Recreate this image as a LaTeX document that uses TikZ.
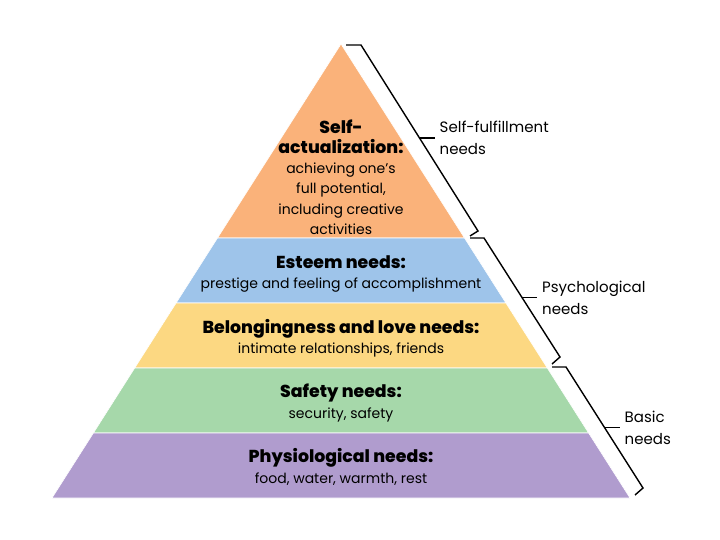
\documentclass[tikz,border=0pt]{standalone}
\usepackage{fontspec}
\setmainfont{Poppins}[BoldFont={Poppins ExtraBold}]
\usetikzlibrary{positioning,calc}
\definecolor{selfcol}{RGB}{250,178,122}
\definecolor{esteemcol}{RGB}{158,196,234}
\definecolor{lovecol}{RGB}{252,216,130}
\definecolor{safecol}{RGB}{166,216,170}
\definecolor{physcol}{RGB}{176,156,206}
\newcommand{\lvltitle}[1]{{\fontsize{17.3}{20}\selectfont\bfseries #1}}
\begin{document}
\begin{tikzpicture}[
          x=1pt, y=-1pt,
          font=\fontsize{14}{20.2}\selectfont,
          band/.style={draw=white, line width=0.6pt},
          lvl/.style={align=center, inner sep=0pt},
          brk/.style={draw=black, line width=1.4pt, line join=miter},
          lab/.style={align=left, inner xsep=5pt, inner ysep=0pt,
                      font=\fontsize{15}{22}\selectfont}
        ]
        \useasboundingbox (0,0) rectangle (720,540);
        \coordinate (apex) at (341,44);
        \path[band, fill=selfcol]   (apex) -- (464.5,238) -- (217.5,238) -- cycle;
        \path[band, fill=esteemcol] (217.5,238) -- (464.5,238) -- (505.9,303) -- (176.1,303) -- cycle;
        \path[band, fill=lovecol]   (176.1,303) -- (505.9,303) -- (547.3,368) -- (134.7,368) -- cycle;
        \path[band, fill=safecol]   (134.7,368) -- (547.3,368) -- (588.6,433) -- (93.4,433) -- cycle;
        \path[band, fill=physcol]   (93.4,433) -- (588.6,433) -- (630,498) -- (52,498) -- cycle;
        \node[lvl] (selfact) at (341,177) {\lvltitle{Self-}\\\lvltitle{actualization:}\\achieving one’s\\full potential,\\including creative\\activities};
        \node[lvl] (esteem) at (341,274) {\lvltitle{Esteem needs:}\\prestige and feeling of accomplishment};
        \node[lvl] (love) at (341,338) {\lvltitle{Belongingness and love needs:}\\intimate relationships, friends};
        \node[lvl] (safety) at (341,403) {\lvltitle{Safety needs:}\\security, safety};
        \node[lvl] (physio) at (341,467) {\lvltitle{Physiological needs:}\\food, water, warmth, rest};
        \coordinate (s1) at (361,45);
        \coordinate (e1) at (478,231);
        \coordinate (s2) at (484,238);
        \coordinate (e2) at (560,357);
        \coordinate (s3) at (566,367);
        \coordinate (e3) at (643,488);
        \coordinate (m1) at ($(s1)!0.5!(e1)$);
        \coordinate (m2) at ($(s2)!0.5!(e2)$);
        \coordinate (m3) at ($(s3)!0.5!(e3)$);
        \draw[brk] (346,45) -- (s1) -- (e1) -- (470,236);
        \draw[brk] (470,238) -- (s2) -- (e2) -- (552,364);
        \draw[brk] (552,367) -- (s3) -- (e3) -- (635,495);
        \node[lab, right=15pt of m1] (selfneeds) {Self-fulfillment\\needs};
        \node[lab, right=15pt of m2] (psyneeds) {Psychological\\needs};
        \node[lab, right=15pt of m3] (basicneeds) {Basic\\needs};
        \draw[brk] (m1) -- (selfneeds.west);
        \draw[brk] (m2) -- (psyneeds.west);
        \draw[brk] (m3) -- (basicneeds.west);
      \end{tikzpicture}
\end{document}
